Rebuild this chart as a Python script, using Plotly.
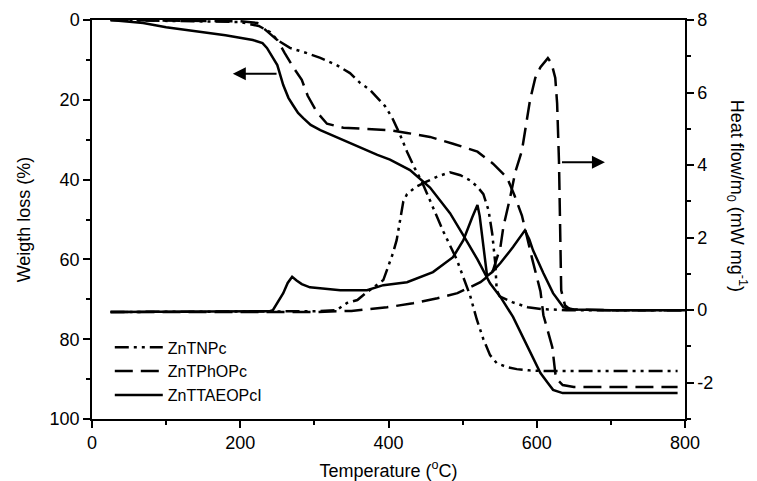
import plotly.graph_objects as go

# ---------------- data ----------------
# TGA curves (left axis: weight loss %)
tga_tnpc_T = [25, 100, 200, 225, 240, 250, 267, 290, 308, 330, 348, 362, 375, 385, 395, 405, 415, 425, 435, 445, 460, 474, 492, 510, 519, 528, 537, 546, 560, 573, 590, 610, 650, 700, 790]
tga_tnpc_W = [0, 0.2, 0.5, 1.5, 3, 5, 7, 8.3, 9.5, 11.3, 13.3, 15.8, 17.5, 19.5, 21.5, 24.5, 28.5, 33, 37, 40.5, 47, 53, 60, 69, 75, 80, 84, 86, 87, 87.5, 87.8, 88, 88, 88, 88]

tga_tphopc_T = [25, 100, 200, 223, 231, 240, 250, 260, 271, 283, 291, 303, 317, 339, 371, 402, 425, 456, 487, 520, 541, 560, 570, 580, 594, 605, 609, 615, 621, 625, 627, 635, 650, 700, 790]
tga_tphopc_W = [0, 0.1, 0.3, 0.75, 2, 3.5, 5, 8.3, 11.7, 15, 19, 23, 26, 27, 27.3, 27.6, 28.3, 29.3, 31, 33, 36, 39.5, 44, 49, 60, 68, 74, 78, 82, 88.5, 90, 91.5, 92, 92, 92]

tga_ttaeopci_T = [25, 69, 100, 146, 180, 217, 230, 236, 243, 250, 258, 265, 271, 278, 285, 295, 308, 325, 348, 385, 402, 429, 456, 483, 501, 520, 537, 551, 568, 580, 591, 605, 615, 622, 635, 700, 790]
tga_ttaeopci_W = [0, 0.75, 1.8, 3, 3.8, 5, 5.8, 7, 9, 11.3, 16.3, 19.5, 21.3, 23.3, 24.6, 26.3, 27.6, 29, 30.8, 33.8, 35, 37.6, 42, 48.4, 54, 60, 66, 69.4, 74.4, 79, 83.5, 88.5, 91, 92.7, 93.5, 93.5, 93.5]

# DSC curves (right axis: heat flow / m0, mW mg-1)
dsc_tnpc_T = [25, 100, 200, 300, 330, 344, 358, 371, 393, 406, 411, 416, 420, 425, 437, 452, 468, 483, 497, 510, 520, 528, 535, 540, 544, 546, 550, 567, 588, 607, 640, 800]
dsc_tnpc_H = [-0.05, -0.05, -0.05, -0.03, 0.0, 0.2, 0.28, 0.5, 0.83, 1.57, 1.93, 2.56, 3.0, 3.2, 3.4, 3.55, 3.7, 3.8, 3.72, 3.58, 3.4, 3.2, 2.75, 2.1, 1.3, 0.55, 0.38, 0.22, 0.08, 0.03, 0, 0]

dsc_tphopc_T = [25, 100, 200, 300, 350, 398, 433, 466, 493, 510, 524, 535, 541, 551, 555, 564, 571, 580, 584, 591, 598, 605, 615, 620, 625, 627.5, 630, 632, 633, 638, 645, 700, 800]
dsc_tphopc_H = [-0.05, -0.05, -0.05, -0.05, -0.02, 0.08, 0.19, 0.33, 0.47, 0.63, 0.77, 0.95, 1.1, 1.74, 2.3, 3.1, 3.8, 4.4, 4.96, 5.8, 6.4, 6.7, 6.95, 6.8, 6.4, 5.7, 4.1, 2.2, 0.55, 0.14, 0.02, 0, 0]

dsc_ttaeopci_T = [25, 100, 200, 240, 244, 250, 258, 264, 270, 276, 283, 294, 310, 335, 371, 393, 425, 460, 487, 501, 513, 520, 523, 526, 530, 533, 540, 551, 568, 578, 584, 590, 595, 609, 622, 636, 650, 700, 800]
dsc_ttaeopci_H = [-0.05, -0.05, -0.04, -0.03, 0.0, 0.2, 0.47, 0.75, 0.92, 0.82, 0.72, 0.63, 0.6, 0.55, 0.55, 0.69, 0.77, 1.05, 1.46, 1.93, 2.56, 2.9, 2.6, 2.1, 1.3, 0.94, 1.05, 1.3, 1.74, 2.05, 2.2, 1.95, 1.65, 1.02, 0.47, 0.08, 0.02, 0, 0]

series_names = ["ZnTNPc", "ZnTPhOPc", "ZnTTAEOPcI"]

x_tickvals = [0, 200, 400, 600, 800]
y_tickvals = [0, 20, 40, 60, 80, 100]
y2_tickvals = [-2, 0, 2, 4, 6, 8]
y2_ticktext = ["-2", "0", "2", "4", "6", "8"]

# ---------------- styling ----------------
FONT = "Arial, Liberation Sans, sans-serif"
dashes = ["14px,5px,3px,5px,3px,5px", "18px,8px", "solid"]
LW = 2.5

fig = go.Figure()

tga = [(tga_tnpc_T, tga_tnpc_W), (tga_tphopc_T, tga_tphopc_W), (tga_ttaeopci_T, tga_ttaeopci_W)]
dsc = [(dsc_tnpc_T, dsc_tnpc_H), (dsc_tphopc_T, dsc_tphopc_H), (dsc_ttaeopci_T, dsc_ttaeopci_H)]

for (tx, ty), name, d in zip(tga, series_names, dashes):
    fig.add_trace(go.Scatter(x=tx, y=ty, mode="lines", name=name, yaxis="y",
                             line=dict(color="black", width=LW, dash=d)))
for (tx, ty), name, d in zip(dsc, series_names, dashes):
    fig.add_trace(go.Scatter(x=tx, y=ty, mode="lines", name=name, yaxis="y2",
                             showlegend=False,
                             line=dict(color="black", width=LW, dash=d)))

axis_common = dict(showline=True, linecolor="black", linewidth=1.5,
                   ticks="outside", ticklen=7, tickwidth=1.5, tickcolor="black",
                   showgrid=False, zeroline=False, automargin=False,
                   tickfont=dict(family=FONT, size=18, color="black"))

fig.update_layout(
    width=757, height=481,
    margin=dict(l=92, r=72, t=20, b=62),
    paper_bgcolor="white", plot_bgcolor="white",
    font=dict(family=FONT, size=18, color="black"),
    xaxis=dict(range=[0, 800], tickvals=x_tickvals, mirror=True,
               minor=dict(dtick=100, ticks="outside", ticklen=4, tickwidth=1.5, tickcolor="black"),
               title=dict(text="Temperature (<sup>o</sup>C)", font=dict(family=FONT, size=18), standoff=20),
               **axis_common),
    yaxis=dict(range=[100, 0], tickvals=y_tickvals,
               minor=dict(dtick=10, ticks="outside", ticklen=4, tickwidth=1.5, tickcolor="black"),
               title=dict(text="Weigth loss (%)", font=dict(family=FONT, size=18), standoff=14),
               **axis_common),
    yaxis2=dict(range=[-3, 8], tickvals=y2_tickvals, ticktext=y2_ticktext,
                overlaying="y", side="right",
                minor=dict(tickvals=[-3, -1, 1, 3, 5, 7], ticks="outside", ticklen=4, tickwidth=1.5, tickcolor="black"),
                **axis_common),
    legend=dict(x=0.03, y=0.222, xanchor="left", yanchor="top",
                bgcolor="rgba(0,0,0,0)", borderwidth=0, itemwidth=48,
                font=dict(family=FONT, size=16, color="black"), tracegroupgap=0),
    showlegend=True,
)

# right-axis title, reading top to bottom
fig.add_annotation(text="Heat flow/m<sub>0</sub> (mW mg<sup>-1</sup>)", textangle=90,
                   xref="paper", yref="paper", x=1.113, y=0.561, showarrow=False,
                   font=dict(family=FONT, size=18, color="black"))

# arrows indicating which axis the curves belong to
fig.add_annotation(x=190, y=13.5, ax=251, ay=13.5, xref="x", yref="y", axref="x", ayref="y",
                   text="", showarrow=True, arrowhead=2, arrowsize=1.3, arrowwidth=2, arrowcolor="black")
fig.add_annotation(x=692, y=4.08, ax=632, ay=4.08, xref="x", yref="y2", axref="x", ayref="y2",
                   text="", showarrow=True, arrowhead=2, arrowsize=1.3, arrowwidth=2, arrowcolor="black")

fig.write_html("out.html")
